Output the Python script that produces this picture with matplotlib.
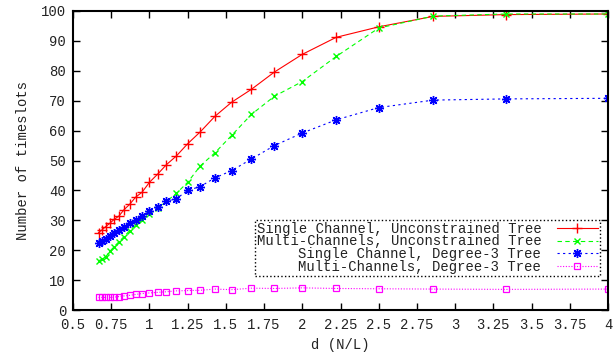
import matplotlib
matplotlib.use("Agg")
import matplotlib.pyplot as plt

plt.rcParams['font.family'] = ['Liberation Mono', 'DejaVu Sans Mono']

# x values: d (N/L)
d_vals = [0.667, 0.690, 0.714, 0.741, 0.769, 0.800, 0.833, 0.870, 0.909, 0.952,
          1.000, 1.053, 1.111, 1.176, 1.250, 1.333, 1.429, 1.538, 1.667, 1.818,
          2.000, 2.222, 2.500, 2.857, 3.333, 4.000]

single_unconstrained = [25.9, 26.8, 27.9, 29.0, 30.3, 31.4, 33.5, 35.3, 37.7, 39.4,
                        42.7, 45.4, 48.6, 51.5, 55.6, 59.6, 64.8, 69.5, 73.8, 79.6,
                        85.5, 91.2, 94.7, 98.2, 98.8, 99.0]
multi_unconstrained = [16.5, 16.9, 17.8, 19.6, 21.2, 22.8, 24.5, 26.5, 28.4, 30.2,
                       32.2, 34.0, 36.3, 39.0, 42.7, 48.2, 52.6, 58.4, 65.4, 71.5,
                       76.4, 84.8, 94.3, 98.3, 99.0, 99.0]
single_deg3 = [22.3, 23.0, 23.8, 24.6, 25.6, 26.7, 27.9, 29.1, 30.2, 31.4,
               33.0, 34.3, 36.4, 37.2, 40.0, 41.3, 44.2, 46.6, 50.5, 55.0,
               59.2, 63.6, 67.7, 70.2, 70.6, 70.8]
multi_deg3 = [4.2, 4.2, 4.2, 4.2, 4.3, 4.5, 4.7, 4.9, 5.2, 5.5,
              5.7, 5.9, 6.1, 6.4, 6.5, 6.6, 7.0, 6.8, 7.3, 7.2,
              7.4, 7.2, 7.1, 7.0, 6.9, 7.0]

labels = ["Single Channel, Unconstrained Tree",
          "Multi-Channels, Unconstrained Tree",
          "Single Channel, Degree-3 Tree",
          "Multi-Channels, Degree-3 Tree"]

x_ticks = [0.5, 0.75, 1, 1.25, 1.5, 1.75, 2, 2.25, 2.5, 2.75, 3, 3.25, 3.5, 3.75, 4]
x_ticklabels = ["0.5", "0.75", "1", "1.25", "1.5", "1.75", "2", "2.25", "2.5",
                "2.75", "3", "3.25", "3.5", "3.75", "4"]
y_ticks = [0, 10, 20, 30, 40, 50, 60, 70, 80, 90, 100]

fig = plt.figure(figsize=(6.16, 3.54), dpi=100)
ax = fig.add_axes([73/616, 1-310/354, 535/616, 299/354])

fs = 10
txtcol = '#222222'
ax.plot(d_vals, single_unconstrained, color='#ff0000', lw=0.8, ls='-',
        marker='+', ms=6.5, mew=1.0, label=labels[0])
ax.plot(d_vals, multi_unconstrained, color='#00ff00', lw=0.8, ls=(0, (4, 3)),
        marker='x', ms=5, mew=1.0, label=labels[1])
ax.plot(d_vals, single_deg3, color='#0000ff', lw=0.8, ls=(0, (2, 3)),
        marker=(8, 2, 0), ms=6.5, mew=1.0, label=labels[2])
ax.plot(d_vals, multi_deg3, color='#ff00ff', lw=0.8, ls=(0, (1, 1.5)),
        marker='s', ms=5, mew=0.9, mfc='none', label=labels[3])

ax.set_xlim(0.5, 4)
ax.set_ylim(0, 100)
ax.set_xticks(x_ticks)
ax.set_xticklabels(x_ticklabels)
ax.set_yticks(y_ticks)
ax.tick_params(direction='in', length=5, width=1, top=True, right=True,
               labelsize=fs, colors='black', labelcolor=txtcol, pad=5)
ax.tick_params(axis='x', pad=6)
for sp in ax.spines.values():
    sp.set_linewidth(1.5)

ax.set_xlabel("d (N/L)", fontsize=fs, labelpad=4, color=txtcol)
ax.set_ylabel("Number of timeslots", fontsize=fs, labelpad=8, color=txtcol)

leg = ax.legend(loc='lower right', bbox_to_anchor=(0.985, 0.114),
                markerfirst=False, fontsize=fs, handlelength=3.0,
                labelspacing=-0.08, borderpad=0.12, handletextpad=1.1,
                fancybox=False, framealpha=1, borderaxespad=0)
for t in leg.get_texts():
    t.set_color(txtcol)
fr = leg.get_frame()
fr.set_edgecolor('black')
fr.set_linestyle(':')
fr.set_linewidth(1.0)

fig.savefig("out.png", dpi=100)
